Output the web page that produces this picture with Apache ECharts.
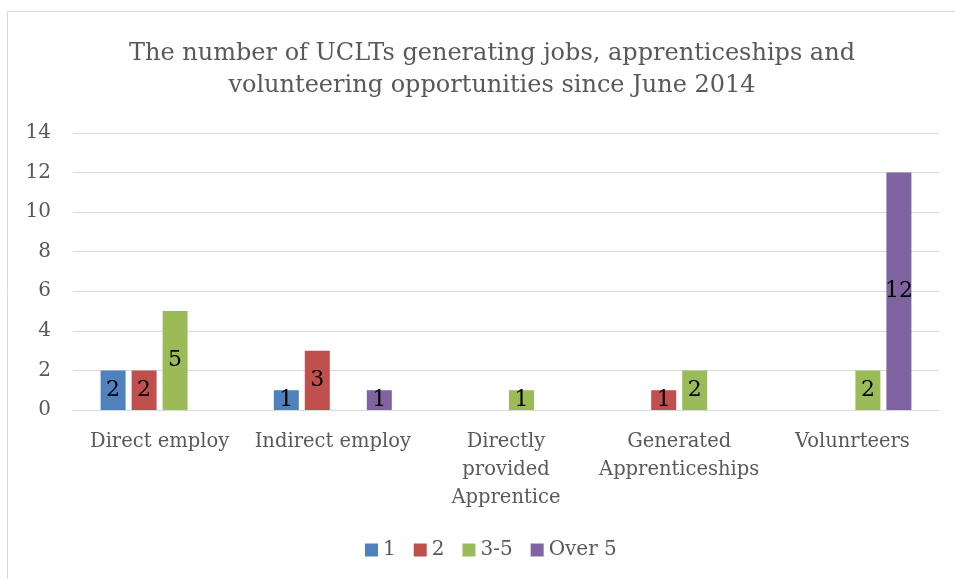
<!DOCTYPE html>
<html>
<head>
<meta charset="utf-8">
<script src="https://cdn.jsdelivr.net/npm/echarts@6/dist/echarts.min.js"></script>
<style>
  html, body { margin: 0; padding: 0; background: #fff; }
  #chart { width: 955px; height: 579px; }
</style>
</head>
<body>
<div id="chart"></div>
<script>
const categories = ['Direct employ', 'Indirect employ', 'Directly\nprovided\nApprentice', 'Generated\nApprenticeships', 'Volunrteers']
const seriesNames = ['1', '2', '3-5', 'Over 5']
const values1 = [2, 1, null, null, null]
const values2 = [2, 3, null, 1, null]
const values35 = [5, null, 1, 2, 2]
const valuesOver5 = [null, 1, null, null, 12]
const colors = ['#4F81BD', '#C0504D', '#9BBB59', '#8064A2']

const font = 'DejaVu Serif'
const textGray = '#595959'

const makeSeries = ( name, data, color ) => ( {
  name,
  type : 'bar',
  data,
  barWidth : 25,
  barGap : '24%',
  itemStyle : { color },
  label : {
    show : true,
    position : 'inside',
    color : '#000',
    fontFamily : font,
    fontSize : 22
  },
  animation : false
} )

const chart = echarts.init( document.getElementById( 'chart' ) )
chart.setOption( {
  color : colors,
  graphic : [
    {
      type : 'rect',
      shape : { x : 7.5, y : 11.5, width : 2000, height : 2000 },
      style : { fill : 'none', stroke : '#d9d9d9', lineWidth : 1 },
      silent : true
    }
  ],
  title : {
    text : 'The number of UCLTs generating jobs, apprenticeships and\nvolunteering opportunities since June 2014',
    left : 487,
    textAlign : 'center',
    top : 33,
    textStyle : {
      fontFamily : font,
      fontSize : 24,
      fontWeight : 'normal',
      color : textGray,
      lineHeight : 32
    }
  },
  legend : {
    bottom : 14,
    left : 360,
    icon : 'rect',
    itemWidth : 13,
    itemHeight : 13,
    itemGap : 18,
    textStyle : { fontFamily : font, fontSize : 20, color : textGray },
    data : seriesNames
  },
  grid : {
    left : 73,
    right : 16,
    top : 133,
    bottom : 169
  },
  xAxis : {
    type : 'category',
    data : categories,
    axisLine : { lineStyle : { color : '#d9d9d9', width : 1 } },
    axisTick : { show : false },
    axisLabel : {
      fontFamily : font,
      fontSize : 19.5,
      color : textGray,
      margin : 18,
      lineHeight : 28,
      interval : 0
    }
  },
  yAxis : {
    type : 'value',
    min : 0,
    max : 14,
    interval : 2,
    axisLine : { show : false },
    axisTick : { show : false },
    splitLine : { lineStyle : { color : '#d9d9d9', width : 1 } },
    axisLabel : {
      fontFamily : font,
      fontSize : 20,
      color : textGray,
      margin : 22
    }
  },
  series : [
    makeSeries( seriesNames[0], values1, colors[0] ),
    makeSeries( seriesNames[1], values2, colors[1] ),
    makeSeries( seriesNames[2], values35, colors[2] ),
    makeSeries( seriesNames[3], valuesOver5, colors[3] )
  ]
} )
</script>
</body>
</html>
